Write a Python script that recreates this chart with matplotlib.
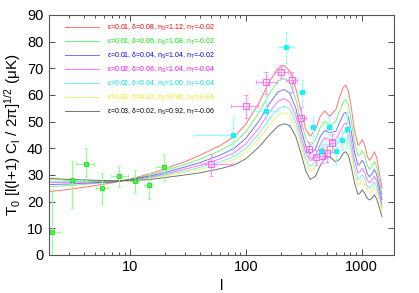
import matplotlib
matplotlib.use('Agg')
import matplotlib.pyplot as plt
from matplotlib.ticker import FixedLocator, FixedFormatter, LogLocator, NullFormatter

plt.rcParams['font.family'] = ['Liberation Sans', 'DejaVu Sans']
plt.rcParams['mathtext.fontset'] = 'custom'
plt.rcParams['mathtext.rm'] = 'Liberation Sans'
plt.rcParams['mathtext.it'] = 'Liberation Sans'

# multipole grid for the model curves
ell = [2, 3, 5, 7, 10, 15, 20, 30, 40, 60, 80, 100, 130, 160, 190, 215, 240, 270, 300,
       330, 360, 400, 440, 480, 530, 600, 650, 700, 730, 770, 820, 870, 930, 970, 1010,
       1060, 1120, 1170, 1230, 1290, 1350, 1420, 1500]

red = [23.7, 24.6, 26.0, 27.0, 28.4, 30.5, 32.3, 35.0, 37.3, 41.0, 44.5, 49.0, 57.0, 65.0,
       70.0, 71.0, 69.0, 62.5, 54.0, 47.0, 44.5, 47.0, 52.0, 54.0, 52.0, 54.5, 59.5, 63.0,
       63.7, 61.5, 54.5, 46.5, 41.2, 41.8, 43.3, 41.5, 37.0, 35.4, 36.8, 38.7, 36.5, 31.0, 25.0]
green = [25.6, 26.0, 26.8, 27.3, 28.3, 30.0, 31.6, 33.9, 35.9, 39.1, 42.1, 46.1, 53.4, 60.6,
         65.2, 66.2, 64.5, 58.5, 50.5, 43.6, 40.9, 43.2, 47.9, 50.1, 48.7, 50.2, 54.3, 57.6,
         58.2, 56.2, 49.7, 42.2, 37.1, 37.7, 39.1, 37.5, 33.5, 32.1, 33.4, 35.1, 33.1, 28.1, 22.7]
blue = [26.4, 26.6, 27.1, 27.4, 28.2, 29.6, 30.9, 33.0, 34.6, 37.4, 40.1, 43.7, 50.2, 56.8,
        61.1, 62.1, 60.6, 55.1, 47.4, 40.6, 37.9, 39.8, 44.4, 46.7, 45.8, 46.4, 49.9, 52.9,
        53.5, 51.6, 45.5, 38.5, 33.6, 34.2, 35.5, 34.0, 30.5, 29.3, 30.4, 32.1, 30.1, 25.6, 20.7]
magenta = [27.2, 27.2, 27.4, 27.6, 28.1, 29.2, 30.4, 32.2, 33.6, 36.0, 38.4, 41.6, 47.6, 53.6,
           57.6, 58.6, 57.3, 52.2, 44.9, 38.2, 35.3, 37.0, 41.5, 43.9, 43.3, 43.3, 46.1, 48.9,
           49.5, 47.7, 42.0, 35.4, 30.7, 31.2, 32.5, 31.1, 28.0, 27.0, 28.0, 29.5, 27.7, 23.5, 19.0]
cyan = [27.7, 27.6, 27.6, 27.6, 28.0, 29.0, 30.0, 31.5, 32.8, 34.9, 37.0, 39.9, 45.5, 51.0,
        54.8, 55.7, 54.7, 49.9, 42.8, 36.2, 33.2, 34.8, 39.1, 41.6, 41.4, 40.7, 43.1, 45.7,
        46.2, 44.6, 39.1, 32.9, 28.2, 28.8, 30.1, 28.7, 25.9, 25.0, 26.0, 27.4, 25.6, 21.8, 17.6]
yellow = [28.4, 28.1, 27.9, 27.8, 27.9, 28.7, 29.6, 31.0, 32.0, 34.0, 35.8, 38.5, 43.6, 48.8,
          52.4, 53.3, 52.4, 47.9, 41.0, 34.4, 31.4, 32.8, 37.0, 39.7, 39.7, 38.5, 40.5, 43.0,
          43.5, 41.9, 36.7, 30.7, 26.2, 26.7, 28.0, 26.7, 24.2, 23.4, 24.2, 25.6, 23.9, 20.3, 16.4]
black = [28.7, 28.3, 28.0, 27.8, 27.8, 28.3, 29.0, 30.0, 30.8, 32.3, 33.8, 36.0, 40.5, 45.0,
         48.3, 49.2, 48.5, 44.5, 38.0, 31.5, 28.3, 29.5, 33.5, 36.3, 36.8, 34.8, 36.0, 38.3,
         38.7, 37.3, 32.5, 27.0, 22.7, 23.2, 24.4, 23.2, 21.2, 20.6, 21.3, 22.5, 21.0, 17.8, 14.4]

labels = [
    r'ε=0.01, δ=0.08, n$_S$=1.12, n$_T$=-0.02',
    r'ε=0.01, δ=0.06, n$_S$=1.08, n$_T$=-0.02',
    r'ε=0.01, δ=0.04, n$_S$=1.04, n$_T$=-0.02',
    r'ε=0.02, δ=0.06, n$_S$=1.04, n$_T$=-0.04',
    r'ε=0.02, δ=0.04, n$_S$=1.00, n$_T$=-0.04',
    r'ε=0.02, δ=0.02, n$_S$=0.96, n$_T$=-0.04',
    r'ε=0.03, δ=0.02, n$_S$=0.92, n$_T$=-0.06',
]
colors = ['#ff0000', '#00ee00', '#0000ff', '#ff00ff', '#00e0e0', '#e8e800', '#000000']

# low-l points (green)
g_l = [2.11, 3.14, 4.18, 5.7, 8.09, 11.0, 14.7, 19.6]
g_v = [8.7, 28.1, 34.1, 25.2, 29.6, 27.7, 26.2, 33.1]
g_lo = [0.0, 17.7, 27.7, 19.0, 25.6, 23.4, 20.9, 27.7]
g_hi = [24.6, 35.2, 40.0, 30.6, 33.4, 31.9, 30.6, 37.8]
g_xlo = [1.9, 2.57, 3.43, 5.1, 6.86, 9.87, 13.3, 16.9]
g_xhi = [2.5, 3.83, 4.9, 6.5, 9.56, 12.0, 15.9, 22.4]

# magenta points (open squares)
m_l = [50, 100, 151, 203, 252, 302, 352, 406, 458, 505, 558]
m_v = [34.1, 55.9, 64.8, 68.7, 65.6, 51.5, 39.6, 36.6, 37.2, 38.1, 41.9]
m_lo = [29.7, 51.3, 60.3, 66.5, 61.2, 47.5, 36.9, 33.7, 34.5, 35.0, 38.5]
m_hi = [37.9, 60.0, 68.7, 71.2, 68.7, 55.6, 42.3, 39.4, 40.0, 41.0, 45.5]
m_xlo = [41, 75, 123, 178, 224, 274, 330, 385, 435, 480, 530]
m_xhi = [78, 127, 185, 232, 278, 334, 375, 430, 480, 530, 590]

# cyan points (filled squares)
c_l = [78, 149, 224, 306, 378, 449, 525, 604, 676, 752]
c_v = [45.0, 54.1, 77.9, 61.0, 48.1, 39.1, 48.1, 39.1, 43.1, 47.1]
c_lo = [37.5, 48.7, 71.9, 56.2, 44.4, 35.5, 44.5, 33.7, 39.5, 40.0]
c_hi = [51.9, 59.4, 83.7, 65.6, 51.9, 42.5, 51.9, 43.7, 46.5, 53.1]
c_xlo = [36, 112, 190, 275, 355, 425, 500, 575, 650, 720]
c_xhi = [83, 190, 263, 334, 400, 475, 550, 635, 700, 790]

fig = plt.figure(figsize=(4.19, 2.93), dpi=100)
ax = fig.add_axes([0.117, 0.130, 0.823, 0.819])

curves = [red, green, blue, magenta, cyan, yellow, black]
for vals, col, lab in zip(curves, colors, labels):
    ax.plot(ell, vals, color=col, lw=0.7, alpha=0.55, label=lab)


def errs(v, lo, hi):
    return [[a - b for a, b in zip(v, lo)], [b - a for a, b in zip(v, hi)]]


ax.errorbar(g_l, g_v, yerr=errs(g_v, g_lo, g_hi), xerr=errs(g_l, g_xlo, g_xhi),
            fmt='s', ms=2.5, mfc='#40ff40', mec='#20c020', mew=0.5,
            ecolor='#90ff90', elinewidth=0.8, capsize=1.5, capthick=0.6)
ax.errorbar(m_l, m_v, yerr=errs(m_v, m_lo, m_hi), xerr=errs(m_l, m_xlo, m_xhi),
            fmt='s', ms=4, mfc='none', mec='#ff60ff', mew=0.7,
            ecolor='#ff90ff', elinewidth=0.8, capsize=1.5, capthick=0.6)
ax.errorbar(c_l, c_v, yerr=errs(c_v, c_lo, c_hi), xerr=errs(c_l, c_xlo, c_xhi),
            fmt='s', ms=3.5, mfc='#00ffff', mec='#00e8e8', mew=0.5,
            ecolor='#90ffff', elinewidth=0.8, capsize=1.5, capthick=0.6)

ax.set_xscale('log')
ax.set_xlim(2, 1900)
ax.set_ylim(0, 90)
ax.xaxis.set_major_locator(FixedLocator([10, 100, 1000]))
ax.xaxis.set_major_formatter(FixedFormatter(['10', '100', '1000']))
ax.xaxis.set_minor_locator(LogLocator(base=10, subs=range(2, 10)))
ax.xaxis.set_minor_formatter(NullFormatter())
ax.set_yticks(range(0, 91, 10))
ax.tick_params(which='both', direction='in', top=True, right=True, labelsize=10.5,
               width=0.6, color='#333333')
ax.tick_params(which='major', length=4, pad=4)
ax.tick_params(which='minor', length=2)
for s in ax.spines.values():
    s.set_linewidth(0.8)
    s.set_color('#555555')

ax.set_xlabel('l', fontsize=10.5, labelpad=3)
ax.set_ylabel(r'T$_0$ [l(l+1) C$_l$ / 2π]$^{1/2}$ (μK)', fontsize=11, labelpad=3)

leg = ax.legend(loc='upper left', bbox_to_anchor=(0.046, 0.967), frameon=False,
                fontsize=5, handlelength=4.9, handletextpad=1.15, labelspacing=0.54,
                labelcolor='linecolor', borderaxespad=0, borderpad=0)
for t, col in zip(leg.get_texts(), colors):
    t.set_color(col)
    t.set_alpha(1)

fig.savefig('out.png', dpi=100)
